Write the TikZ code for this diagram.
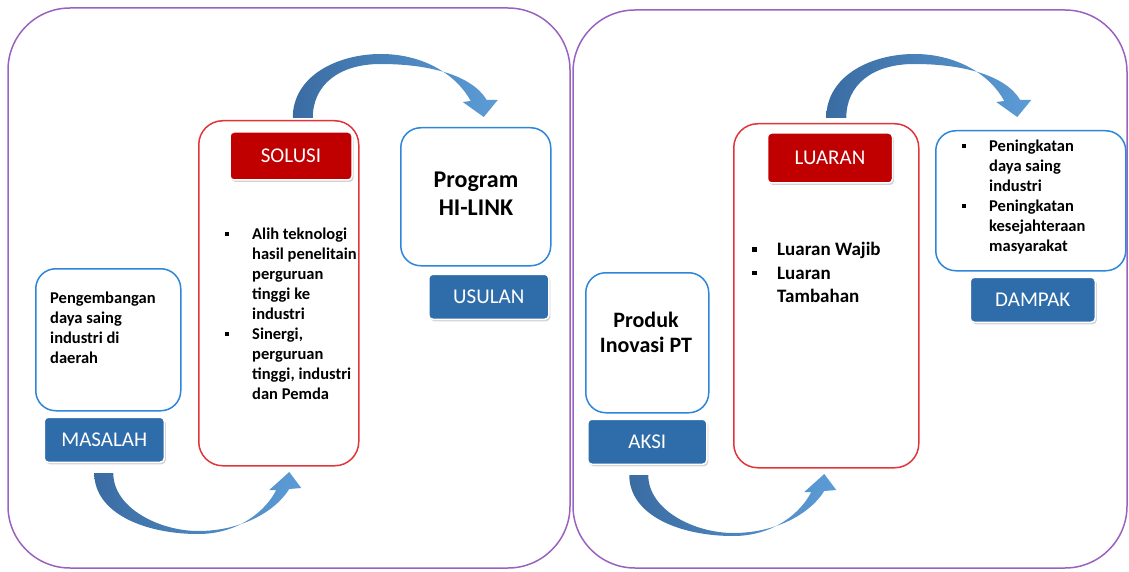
\documentclass[tikz,border=0pt]{standalone}
\usepackage{fontspec}
\setmainfont{Carlito}
\usetikzlibrary{positioning,arrows.meta,shadows}

\definecolor{framepurple}{HTML}{9A62C0}
\definecolor{boxblue}{HTML}{2E86D8}
\definecolor{boxred}{HTML}{E0353A}
\definecolor{tagblue}{HTML}{2F6DAA}
\definecolor{tagred}{HTML}{C00000}
\definecolor{flowdark}{HTML}{3A6CA2}
\definecolor{flowlight}{HTML}{5C9CD6}

\newcommand{\bul}{\makebox[27pt][l]{\raisebox{3.5pt}{\rule{4pt}{4pt}}}}
\newcommand{\ind}{\hspace*{27pt}}
% curved band arrows, local coordinates
\newcommand{\lowflow}{(-10,10) .. controls (-10,50) and (40,71) .. (94,71)
    .. controls (135,71) and (162,47) .. (172,27) -- (165,27) -- (185,9) -- (197,25) -- (185,26)
    .. controls (170,50) and (135,68) .. (94,68) .. controls (55,68) and (9,45) .. (9,10) -- cycle}
\newcommand{\highflow}{(14,-2) .. controls (14,-45) and (60,-66) .. (102,-66)
    .. controls (145,-66) and (178,-45) .. (192,-19) -- (184,-18) -- (205,-3) -- (219,-20) -- (208,-20)
    .. controls (193,-45) and (150,-56) .. (102,-56) .. controls (60,-56) and (34,-35) .. (34,-2) -- cycle}

\begin{document}
\begin{tikzpicture}[x=1pt, y=-1pt,
        frame/.style={draw=framepurple, line width=1.5pt, rounded corners=62pt},
        infobox/.style={draw=boxblue, line width=1.5pt, rounded corners=20pt, fill=white, anchor=north west, inner sep=0pt},
        outbox/.style={draw=boxred, line width=1.5pt, rounded corners=24pt, fill=white, anchor=north west, inner sep=0pt},
        tag/.style={draw=white, line width=1.5pt, rounded corners=4pt, text=white, minimum width=120pt, minimum height=45pt, inner sep=0pt, font=\fontsize{21}{24}\selectfont, drop shadow={shadow xshift=1.5pt, shadow yshift=-2pt, opacity=0.35}},
        bluetag/.style={tag, fill=tagblue},
        redtag/.style={tag, fill=tagred},
        txt/.style={align=left, anchor=north west, inner sep=0pt, font=\bfseries\fontsize{16.5}{20}\selectfont},
        title/.style={align=center, inner sep=0pt, font=\bfseries\fontsize{24}{28}\selectfont},
        flow/.style={left color=flowdark, right color=flowlight}
    ]
        \useasboundingbox (0,0) rectangle (1129,572);

        % two halves
        \draw[frame] (8,8) rectangle (570,568);
        \draw[frame] (573,10) rectangle (1127,568);

        % left half
        \node[infobox, minimum width=145pt, minimum height=142pt] (masalahbox) at (35,268) {};
        \node[bluetag, below=5pt of masalahbox, xshift=-4pt] (masalah) {MASALAH};
        \node[txt] (masalahtxt) at (50,292) {Pengembangan\\daya saing\\industri di\\daerah};

        \node[outbox, minimum width=160pt, minimum height=345pt] (solusibox) at (198,120) {};
        \node[redtag, minimum width=122pt, minimum height=48pt] (solusi) at (291,156) {SOLUSI};
        \node[txt] (solusitxt) at (225,228) {\bul Alih teknologi\\ \ind hasil penelitain\\ \ind perguruan\\ \ind tinggi ke\\ \ind industri\\
            \bul Sinergi,\\ \ind perguruan\\ \ind tinggi, industri\\ \ind dan Pemda};

        \node[infobox, minimum width=150pt, minimum height=138pt] (hilinkbox) at (400,127) {};
        \node[bluetag, below=7pt of hilinkbox, xshift=13pt] (usulan) {USULAN};
        \node[title] (hilinktxt) at (476,194) {Program\\HI-LINK};

        % right half
        \node[infobox, minimum width=123pt, minimum height=140pt] (aksibox) at (585,272) {};
        \node[bluetag, below=5pt of aksibox, minimum width=119pt] (aksi) {AKSI};
        \node[title, font=\bfseries\fontsize{22}{25}\selectfont] (aksitxt) at (646,332) {Produk\\Inovasi PT};

        \node[outbox, minimum width=185pt, minimum height=344pt] (luaranbox) at (733,123) {};
        \node[redtag, minimum width=125pt, minimum height=50pt] (luaran) at (830,158) {LUARAN};
        \node[txt, font=\bfseries\fontsize{19}{23.5}\selectfont] (luarantxt) at (752,242) {\makebox[25pt][l]{\raisebox{4pt}{\rule{4.5pt}{4.5pt}}}Luaran Wajib\\
            \makebox[25pt][l]{\raisebox{4pt}{\rule{4.5pt}{4.5pt}}}Luaran\\ \hspace*{25pt}Tambahan};

        \node[infobox, minimum width=190pt, minimum height=140pt] (dampakbox) at (935,130) {};
        \node[bluetag, below=5pt of dampakbox, xshift=2pt, minimum width=125pt] (dampak) {DAMPAK};
        \node[txt] (dampaktxt) at (962,140) {\bul Peningkatan\\ \ind daya saing\\ \ind industri\\
            \bul Peningkatan\\ \ind kesejahteraan\\ \ind masyarakat};

        % flow arrows
        \shade[flow, shift={(masalah.south)}] \lowflow;
        \shade[flow, shift={(solusibox.north)}] \highflow;
        \shade[flow, shift={([xshift=-8pt]aksi.south)}] \lowflow;
        \shade[flow, shift={([xshift=-14pt,yshift=3pt]luaranbox.north)}] \highflow;
    \end{tikzpicture}
\end{document}
